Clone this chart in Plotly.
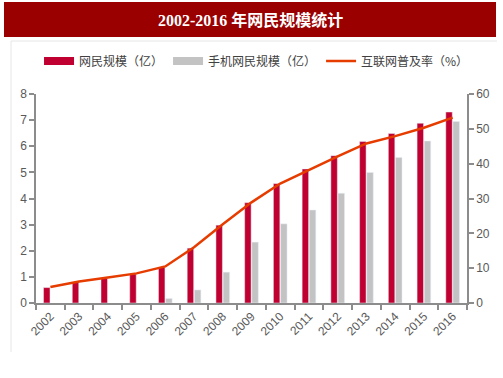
import plotly.graph_objects as go

years = ["2002", "2003", "2004", "2005", "2006", "2007", "2008", "2009",
         "2010", "2011", "2012", "2013", "2014", "2015", "2016"]
netizens = [0.59, 0.80, 0.94, 1.11, 1.37, 2.10, 2.98, 3.84, 4.57, 5.13, 5.64, 6.18, 6.49, 6.88, 7.31]
mobile = [None, None, None, None, 0.17, 0.50, 1.18, 2.33, 3.03, 3.56, 4.20, 5.00, 5.57, 6.20, 6.95]
penetration = [4.6, 6.2, 7.3, 8.5, 10.5, 16.0, 22.6, 28.9, 34.3, 38.3, 42.1, 45.8, 47.9, 50.3, 53.2]

names = ["网民规模（亿）", "手机网民规模（亿）", "互联网普及率（%）"]
title_text = "2002-2016 年网民规模统计"

RED = "#C00030"
GRAY = "#C3C3C3"
LINE = "#E63C00"
AXIS = "#8C8C8C"
TICKFONT = dict(family="Liberation Sans, Arial", size=12, color="#595959")

W, H = 503, 378
L, R, T, B = 36, 36, 94, 75
pw, ph = W - L - R, H - T - B

def px(x):
    return (x - L) / pw

def py(y):
    return (H - B - y) / ph

fig = go.Figure()
fig.add_trace(go.Bar(x=years, y=netizens, name=names[0], marker_color=RED,
                     showlegend=False))
fig.add_trace(go.Bar(x=years, y=mobile, name=names[1], marker_color=GRAY,
                     showlegend=False))
fig.add_trace(go.Scatter(x=years, y=penetration, name=names[2], yaxis="y2",
                         mode="lines", line=dict(color=LINE, width=2.5),
                         showlegend=False))
# legend entries (wide swatches like the reference)
fig.add_trace(go.Scatter(x=[None], y=[None], name=names[0], mode="lines",
                         line=dict(color=RED, width=8)))
fig.add_trace(go.Scatter(x=[None], y=[None], name=names[1], mode="lines",
                         line=dict(color=GRAY, width=8)))
fig.add_trace(go.Scatter(x=[None], y=[None], name=names[2], mode="lines",
                         line=dict(color=LINE, width=2.5)))

fig.update_layout(
    width=W, height=H,
    margin=dict(l=L, r=R, t=T, b=B),
    paper_bgcolor="white", plot_bgcolor="white",
    barmode="group", bargap=0.5, bargroupgap=0.1,
    xaxis=dict(type="category", tickson="boundaries", ticks="outside",
               ticklen=5, tickcolor=AXIS, tickwidth=1.5,
               showline=True, linecolor=AXIS, linewidth=1.5,
               tickangle=-45, tickfont=TICKFONT, showgrid=False),
    yaxis=dict(range=[0, 8], dtick=1, ticks="outside", ticklen=5,
               tickcolor=AXIS, tickwidth=1.5, showline=True, linecolor=AXIS,
               linewidth=1.5, showgrid=False, zeroline=False, tickfont=TICKFONT),
    yaxis2=dict(range=[0, 60], dtick=10, overlaying="y", side="right",
                ticks="outside", ticklen=5, tickcolor=AXIS, tickwidth=1.5,
                showline=True, linecolor=AXIS, linewidth=1.5, showgrid=False,
                zeroline=False, tickfont=TICKFONT),
    legend=dict(orientation="h", xref="container", yref="container",
                x=0.51, xanchor="center", y=1 - 61 / H, yanchor="middle",
                itemwidth=30, traceorder="normal",
                font=dict(family="Noto Sans CJK SC", size=12, color="#404040"),
                bgcolor="rgba(0,0,0,0)"),
    showlegend=True,
)

# title banner
fig.add_shape(type="rect", xref="paper", yref="paper",
              x0=px(4), x1=px(496), y0=py(37), y1=py(2),
              fillcolor="#9B0000", line_width=0, layer="below")
# panel border (top and left)
fig.add_shape(type="line", xref="paper", yref="paper",
              x0=px(11), x1=px(497), y0=py(41), y1=py(41),
              line=dict(color="#E6E6E6", width=1))
fig.add_shape(type="line", xref="paper", yref="paper",
              x0=px(11), x1=px(11), y0=py(41), y1=py(352),
              line=dict(color="#E6E6E6", width=1))
fig.add_annotation(text="<b>" + title_text + "</b>", xref="paper", yref="paper",
                   x=px(250), y=py(20), xanchor="center", yanchor="middle",
                   showarrow=False,
                   font=dict(family="Liberation Serif, Noto Sans CJK SC", size=16, color="white"))

fig.write_html("out.html", config={"displayModeBar": False},
               post_script="document.body.style.margin='0px';")
